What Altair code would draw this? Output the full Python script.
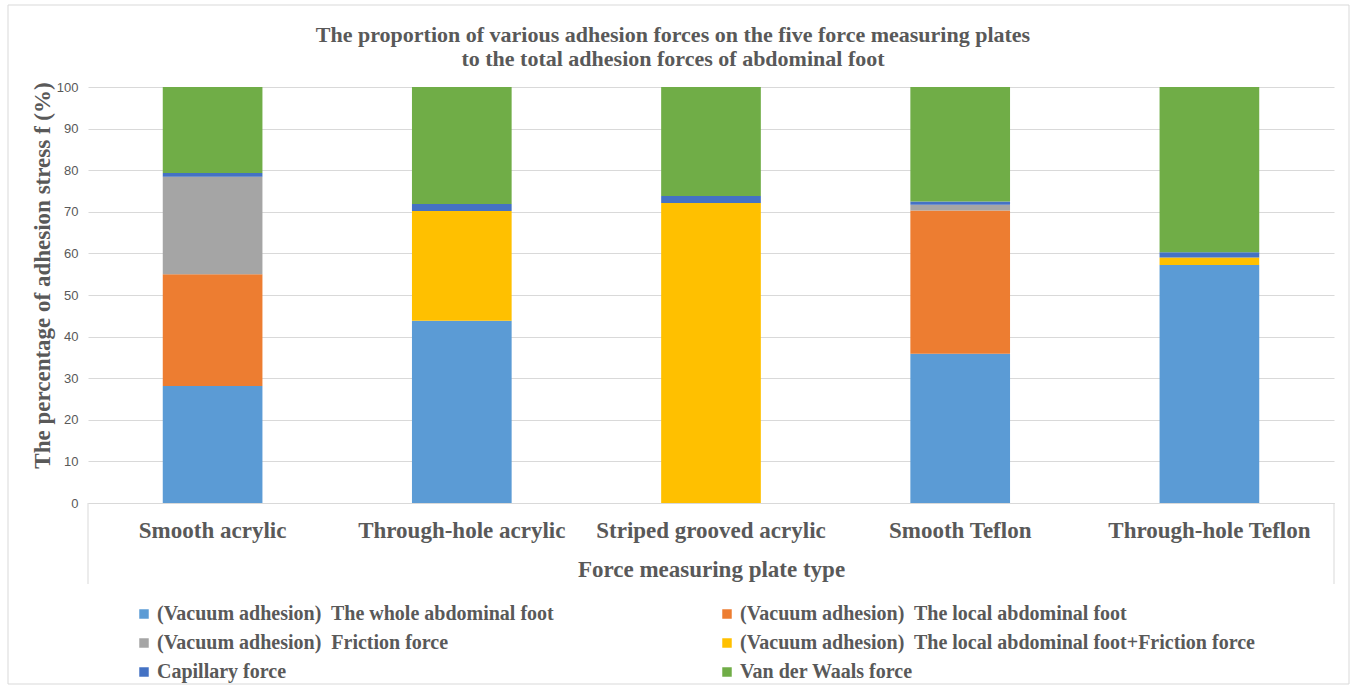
import altair as alt
import pandas as pd

plates = ["Smooth acrylic", "Through-hole acrylic", "Striped grooved acrylic",
          "Smooth Teflon", "Through-hole Teflon"]
series = [
    "(Vacuum adhesion)\u00a0 The whole abdominal foot",
    "(Vacuum adhesion)\u00a0 The local abdominal foot",
    "(Vacuum adhesion)\u00a0 Friction force",
    "(Vacuum adhesion)\u00a0 The local abdominal foot+Friction force",
    "Capillary force",
    "Van der Waals force",
]
colors = ["#5B9BD5", "#ED7D31", "#A5A5A5", "#FFC000", "#4472C4", "#70AD47"]
# legend reading order (filled column by column)
legend_order = [0, 2, 4, 1, 3, 5]

whole_foot = [28.1, 43.8, 0.0, 35.9, 57.2]
local_foot = [26.9, 0.0, 0.0, 34.4, 0.0]
friction = [23.4, 0.0, 0.0, 1.4, 0.0]
local_plus_friction = [0.0, 26.4, 72.1, 0.0, 1.8]
capillary = [0.9, 1.7, 1.7, 0.8, 1.3]
van_der_waals = [20.7, 28.1, 26.2, 27.5, 39.7]

values = [whole_foot, local_foot, friction, local_plus_friction, capillary, van_der_waals]
rows = []
for si, (s, vals) in enumerate(zip(series, values)):
    for p, v in zip(plates, vals):
        rows.append({"plate": p, "series": s, "value": v, "order": si})
df = pd.DataFrame(rows)

TXT = "#595959"
SERIF = "Liberation Serif"
W, H = 1246, 416

bars = alt.Chart(df).mark_bar().encode(
    x=alt.X("plate:N", sort=plates,
            scale=alt.Scale(paddingInner=0.6, paddingOuter=0.3),
            axis=alt.Axis(title="Force measuring plate type", labelAngle=0,
                          labelFont=SERIF, labelFontSize=23, labelFontWeight="bold",
                          labelColor=TXT, labelPadding=16, labelLimit=400, ticks=False,
                          domainColor="#D9D9D9", titleFont=SERIF, titleFontSize=23,
                          titleFontWeight="bold", titleColor=TXT, titlePadding=16)),
    y=alt.Y("value:Q", stack="zero",
            scale=alt.Scale(domain=[0, 100], nice=False),
            axis=alt.Axis(title="The percentage of adhesion stress f (%)",
                          values=list(range(0, 101, 10)), labelFont="Liberation Sans",
                          labelFontSize=13, labelColor=TXT, labelPadding=10,
                          ticks=False, domain=False, gridColor="#D9D9D9",
                          titleFont=SERIF, titleFontSize=23, titleFontWeight="bold",
                          titleColor=TXT, titlePadding=2, titleY=188)),
    color=alt.Color("series:N",
                    scale=alt.Scale(domain=[series[i] for i in legend_order],
                                    range=[colors[i] for i in legend_order]),
                    legend=alt.Legend(title=None, orient="none", legendX=46, legendY=517,
                                      columns=2, columnPadding=162, rowPadding=9,
                                      symbolType="square", symbolSize=90,
                                      symbolStrokeWidth=0, labelFont=SERIF,
                                      labelFontSize=20, labelFontWeight="bold",
                                      labelColor=TXT, labelLimit=700, labelOffset=3,
                                      padding=0)),
    order=alt.Order("order:Q"),
)

frame = alt.Chart(pd.DataFrame({"k": [0, 1]})).mark_rule(color="#D9D9D9").encode(
    x=alt.X("k:Q", scale=alt.Scale(domain=[0, 1], range=[0, W]), axis=None),
    y=alt.value(H), y2=alt.value(H + 81),
)

border = alt.Chart(pd.DataFrame({"k": [0]})).mark_rect(
    fill=None, stroke="#D9D9D9", strokeWidth=1).encode(
    x=alt.value(-80), x2=alt.value(1261), y=alt.value(-82), y2=alt.value(597),
)

chart = alt.layer(border, bars, frame).resolve_scale(x="independent").properties(
    width=W, height=H,
    title=alt.Title(
        text=["The proportion of various adhesion forces on the five force measuring plates",
              "to the total adhesion forces of abdominal foot"],
        font=SERIF, fontSize=22, fontWeight="bold", color=TXT, anchor="middle",
        dx=-38, offset=-66, lineHeight=24),
    autosize=alt.AutoSizeParams(type="none"),
    padding={"left": 88, "top": 87, "right": 19, "bottom": 183},
).configure_view(stroke=None).configure_axis(labelOverlap=False)

chart.save("out.html", embed_options={"renderer": "svg", "actions": False})
